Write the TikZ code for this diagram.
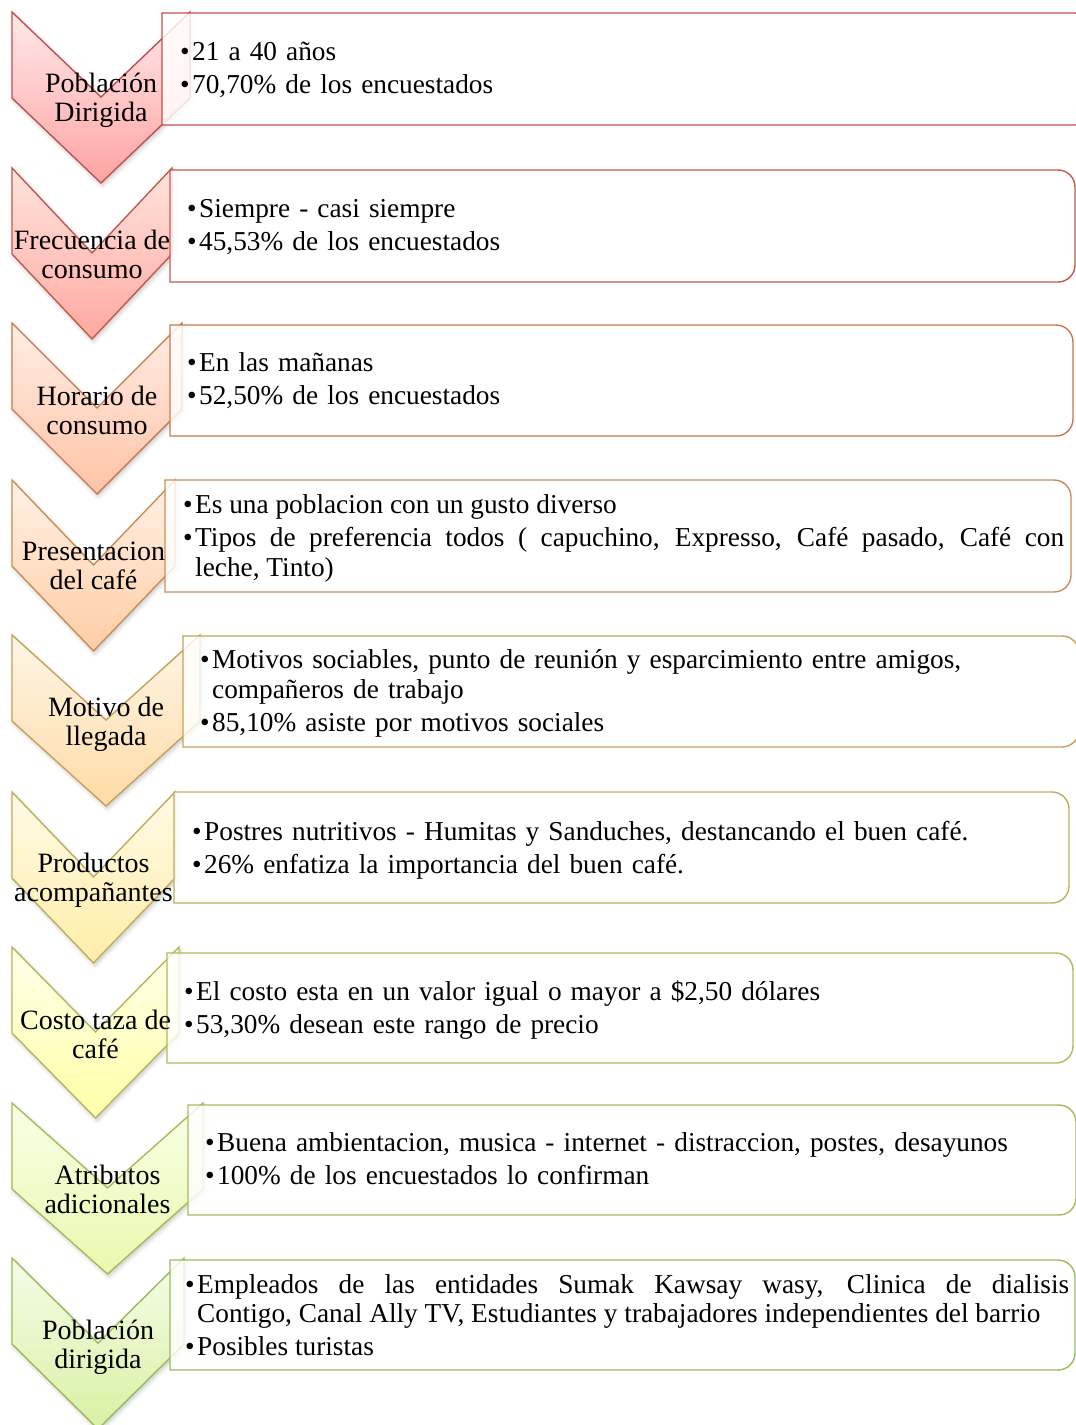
\documentclass[tikz,border=0pt]{standalone}
\usepackage{fontspec}
\setmainfont{Liberation Serif}
\usetikzlibrary{shadows.blur}
\definecolor{s1}{HTML}{C0504D}\definecolor{t1}{HTML}{FFE9E9}\definecolor{b1}{HTML}{FFA3A3}
\definecolor{s2}{HTML}{C25A4A}\definecolor{t2}{HTML}{FFE4DE}\definecolor{b2}{HTML}{FFA8A0}
\definecolor{s3}{HTML}{C8784E}\definecolor{t3}{HTML}{FFEDE4}\definecolor{b3}{HTML}{FFC3A6}
\definecolor{s4}{HTML}{C98E56}\definecolor{t4}{HTML}{FFF1E6}\definecolor{b4}{HTML}{FFCDA5}
\definecolor{s5}{HTML}{C6A15C}\definecolor{t5}{HTML}{FFF5E6}\definecolor{b5}{HTML}{FFDBA6}
\definecolor{s6}{HTML}{BDAF5C}\definecolor{t6}{HTML}{FFFAE6}\definecolor{b6}{HTML}{FFEDA8}
\definecolor{s7}{HTML}{B4B75B}\definecolor{t7}{HTML}{FFFFE8}\definecolor{b7}{HTML}{FFFFA8}
\definecolor{s8}{HTML}{A7BB5A}\definecolor{t8}{HTML}{F7FFE6}\definecolor{b8}{HTML}{EAF8AE}
\definecolor{s9}{HTML}{9BBB59}\definecolor{t9}{HTML}{F4FCE8}\definecolor{b9}{HTML}{D9F0A3}
\newcommand{\itm}[1]{\par\noindent\hangindent=12pt\hangafter=1\makebox[12pt][l]{•}#1\par}
% chevron: #1 right, #2 top, #3 index
\newcommand{\chev}[3]{%
  \path[draw=s#3, line width=1.4pt, top color=t#3, bottom color=b#3,
        blur shadow={shadow xshift=1.5pt, shadow yshift=-2.5pt, shadow opacity=22, shadow blur radius=4pt}]
    (12,#2) -- ({(12+#1)/2},{#2+85}) -- (#1,#2) -- (#1,{#2+86}) --
    ({(12+#1)/2},{#2+171}) -- (12,{#2+86}) -- cycle;}
% box: #1 L, #2 T, #3 R, #4 B, #5 index
\newcommand{\ibox}[5]{%
  \path[draw=s#5, line width=1.4pt, fill=white, fill opacity=0.82]
    (#1,#2) -- ({#3-17},#2) .. controls ({#3-7.6},#2) and (#3,{#2+7.6}) .. (#3,{#2+17})
    -- (#3,{#4-17}) .. controls (#3,{#4-7.6}) and ({#3-7.6},#4) .. ({#3-17},#4)
    -- (#1,#4) -- cycle;}
\tikzset{
  lbl/.style={align=center, font=\fontsize{28}{29}\selectfont, inner sep=0pt, text=black},
  itemtext/.style={anchor=west, inner sep=0pt, text=black, align=left,
     font=\fontsize{27.3}{29.5}\selectfont\setlength{\parskip}{3.5pt}},
  itemjust/.style={itemtext, align=justify}
}
\begin{document}
\begin{tikzpicture}[x=1pt,y=-1pt]
\useasboundingbox (0,0) rectangle (1076,1425);
\clip (0,0) rectangle (1076,1425);
% row 1
\chev{190}{12}{1}
\ibox{162}{13}{1092}{125}{1}
\node[lbl] (c1) at (101,100.5) {Población\\Dirigida};
\node[itemtext, text width=890pt] (x1) at (180,62.5) {\itm{21 a 40 años}\itm{70,70\% de los encuestados}};
% row 2
\chev{172}{168}{2}
\ibox{170}{170}{1075}{282}{2}
\node[lbl] (c2) at (92,254.5) {Frecuencia de\\consumo};
\node[itemtext, text width=877pt] (x2) at (187,219.5) {\itm{Siempre - casi siempre}\itm{45,53\% de los encuestados}};
% row 3
\chev{182}{323}{3}
\ibox{170}{325}{1073}{436}{3}
\node[lbl] (c3) at (97,410) {Horario de\\consumo};
\node[itemtext, text width=877pt] (x3) at (187,374) {\itm{En las mañanas}\itm{52,50\% de los encuestados}};
% row 4
\chev{175}{480}{4}
\ibox{165}{480}{1071}{592}{4}
\node[lbl] (c4) at (93.5,566) {Presentacion\\del café};
\node[itemjust, text width=881pt] (x4) at (183,531.5) {\itm{Es una poblacion con un gusto diverso}\itm{Tipos de preferencia todos ( capuchino, Expresso, Café pasado, Café con\linebreak leche, Tinto)}};
% row 5
\chev{200}{635}{5}
\ibox{183}{636}{1079}{747}{5}
\node[lbl] (c5) at (106,724) {Motivo de\\llegada};
\node[itemtext, text width=870pt] (x5) at (200,686.5) {\itm{Motivos sociables, punto de reunión y esparcimiento entre amigos,\newline compañeros de trabajo}\itm{85,10\% asiste por motivos sociales}};
% row 6
\chev{175}{792}{6}
\ibox{174}{792}{1069}{903}{6}
\node[lbl] (c6) at (93.5,880) {Productos\\acompañantes};
\node[itemtext, text width=870pt] (x6) at (192,843.5) {\itm{Postres nutritivos - Humitas y Sanduches, destancando el buen café.}\itm{26\% enfatiza la importancia del buen café.}};
% row 7
\chev{179}{947}{7}
\ibox{167}{953}{1073}{1063}{7}
\node[lbl] (c7) at (95.5,1034) {Costo taza de\\café};
\node[itemtext, text width=880pt] (x7) at (184,1003) {\itm{El costo esta en un valor igual o mayor a \$2,50 dólares}\itm{53,30\% desean este rango de precio}};
% row 8
\chev{203}{1103}{8}
\ibox{188}{1105}{1076}{1215}{8}
\node[lbl] (c8) at (107.5,1189.5) {Atributos\\adicionales};
\node[itemtext, text width=862pt] (x8) at (205,1151.5) {\itm{Buena ambientacion, musica - internet - distraccion, postes, desayunos}\itm{100\% de los encuestados lo confirman}};
% row 9
\chev{184}{1258}{9}
\ibox{170}{1260}{1075}{1370}{9}
\node[lbl] (c9) at (98,1347) {Población\\dirigida};
\node[itemjust, text width=884pt] (x9) at (185,1308) {\itm{Empleados de las entidades Sumak Kawsay wasy, Clinica de dialisis\linebreak Contigo, Canal Ally TV, Estudiantes y trabajadores independientes del barrio}\itm{Posibles turistas}};
\end{tikzpicture}
\end{document}
